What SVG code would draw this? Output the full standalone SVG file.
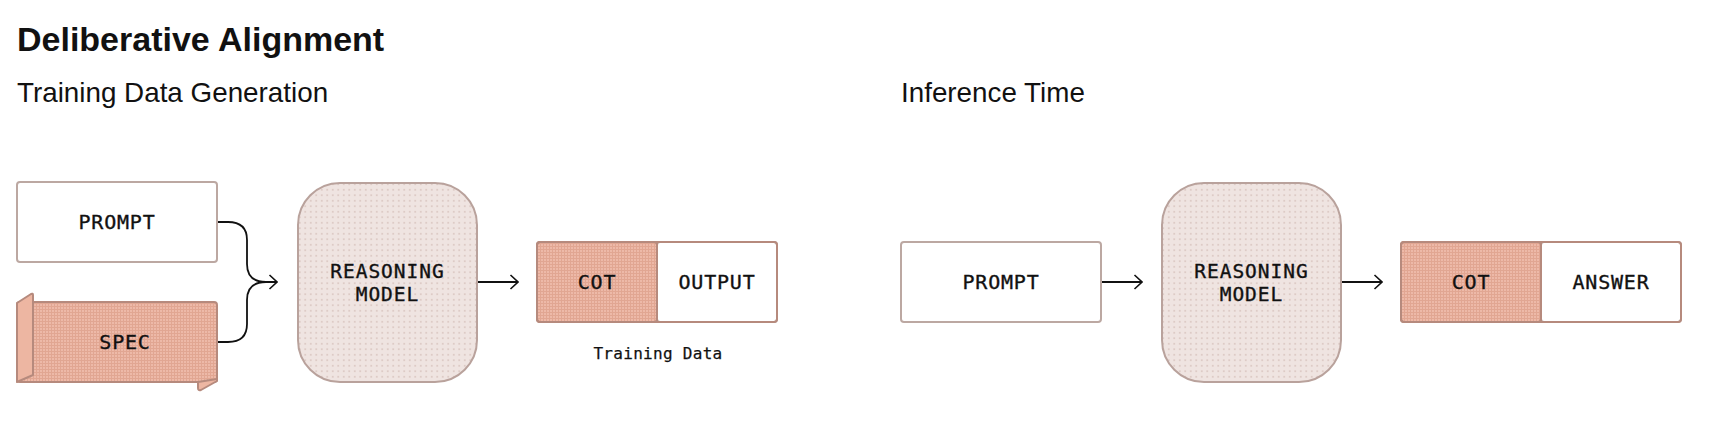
<svg xmlns="http://www.w3.org/2000/svg" width="1734" height="446" viewBox="0 0 1734 446">
  <defs>
    <pattern id="dots" width="5.5" height="5.5" patternUnits="userSpaceOnUse">
      <rect width="5.5" height="5.5" fill="#EFE4E1"/>
      <circle cx="2.75" cy="2.75" r="0.85" fill="#D6C1BB"/>
    </pattern>
    <pattern id="grid" width="3" height="3" patternUnits="userSpaceOnUse">
      <rect width="3" height="3" fill="#EDB9A8"/>
      <path d="M0 0.5H3M0.5 0V3" stroke="#E1A692" stroke-width="1"/>
    </pattern>
    <marker id="arr" viewBox="0 0 10 16" refX="9" refY="8" markerWidth="10" markerHeight="16" markerUnits="userSpaceOnUse" orient="auto">
      <path d="M1.5 1 L9 8 L1.5 15" fill="none" stroke="#111" stroke-width="1.6"/>
    </marker>
    <style>
      .title { font-family: "Liberation Sans", Arial, sans-serif; font-weight: 700; font-size: 34px; fill: #111; }
      .sub { font-family: "Liberation Sans", Arial, sans-serif; font-size: 27.8px; fill: #111; }
      .lbl { font-family: "DejaVu Sans Mono", "Liberation Mono", monospace; font-size: 20px; letter-spacing: 0.8px; fill: #111; stroke: #111; stroke-width: 0.35px; text-anchor: middle; }
      .lbl2 { font-size: 19.5px; letter-spacing: 1px; }
      .cap { font-family: "DejaVu Sans Mono", "Liberation Mono", monospace; font-size: 16px; letter-spacing: 0.3px; fill: #111; stroke: #111; stroke-width: 0.25px; text-anchor: middle; }
      .plain { fill: #fff; stroke: #BCA8A2; stroke-width: 2; }
      .model { fill: url(#dots); stroke: #B9A29C; stroke-width: 2; }
      .cot { fill: url(#grid); stroke: #B68A7D; stroke-width: 2; }
      .flap { fill: #EDB6A2; stroke: #B68A7D; stroke-width: 2; stroke-linejoin: round; }
      .conn { fill: none; stroke: #111; stroke-width: 1.8; }
      .edge { fill: none; stroke: #B68A7D; stroke-width: 2; }
    </style>
  </defs>

  <text class="title" x="17" y="51">Deliberative Alignment</text>
  <text class="sub" x="17" y="102">Training Data Generation</text>
  <text class="sub" x="901" y="102">Inference Time</text>

  <g id="connectors">
    <path class="conn" d="M217 222 H228 C241 222 247 228 247 240 V264 C247 276 254 282 266 282 H277" marker-end="url(#arr)"/>
    <path class="conn" d="M217 342 H228 C241 342 247 336 247 324 V300 C247 288 254 282 266 282 H277"/>
    <path class="conn" d="M478 282 H518" marker-end="url(#arr)"/>
    <path class="conn" d="M1102 282 H1142" marker-end="url(#arr)"/>
    <path class="conn" d="M1342 282 H1382" marker-end="url(#arr)"/>
  </g>

  <g id="train-prompt">
    <rect class="plain" x="17" y="182" width="200" height="80" rx="3"/>
    <text class="lbl" x="117" y="229">PROMPT</text>
  </g>

  <g id="train-spec">
    <rect class="cot" x="17" y="302" width="200" height="80" rx="3"/>
    <path class="flap" d="M198 382 L198 388 Q198 391 201 390 L217 381 L217 379 Z"/>
    <path class="flap" d="M17 303 L31 294 Q33 293 33 295 L33 375 L17 382 Z"/>
    <text class="lbl" x="125" y="349">SPEC</text>
  </g>

  <g id="train-model">
    <rect class="model" x="298" y="183" width="179" height="199" rx="42"/>
    <text class="lbl lbl2" x="387.5" y="277.5">REASONING</text>
    <text class="lbl lbl2" x="387.5" y="300.5">MODEL</text>
  </g>

  <g id="train-output">
    <rect class="cot" x="537" y="242" width="120" height="80" rx="3"/>
    <rect class="plain" x="657" y="242" width="120" height="80" rx="3"/>
    <rect class="edge" x="537" y="242" width="240" height="80" rx="3"/>
    <line class="edge" x1="657" y1="242" x2="657" y2="322"/>
    <text class="lbl" x="597" y="289">COT</text>
    <text class="lbl" x="717" y="289">OUTPUT</text>
    <text class="cap" x="658" y="359">Training Data</text>
  </g>

  <g id="inf-prompt">
    <rect class="plain" x="901" y="242" width="200" height="80" rx="3"/>
    <text class="lbl" x="1001" y="289">PROMPT</text>
  </g>

  <g id="inf-model">
    <rect class="model" x="1162" y="183" width="179" height="199" rx="42"/>
    <text class="lbl lbl2" x="1251.5" y="277.5">REASONING</text>
    <text class="lbl lbl2" x="1251.5" y="300.5">MODEL</text>
  </g>

  <g id="inf-output">
    <rect class="cot" x="1401" y="242" width="140" height="80" rx="3"/>
    <rect class="plain" x="1541" y="242" width="140" height="80" rx="3"/>
    <rect class="edge" x="1401" y="242" width="280" height="80" rx="3"/>
    <line class="edge" x1="1541" y1="242" x2="1541" y2="322"/>
    <text class="lbl" x="1471" y="289">COT</text>
    <text class="lbl" x="1611" y="289">ANSWER</text>
  </g>
</svg>
